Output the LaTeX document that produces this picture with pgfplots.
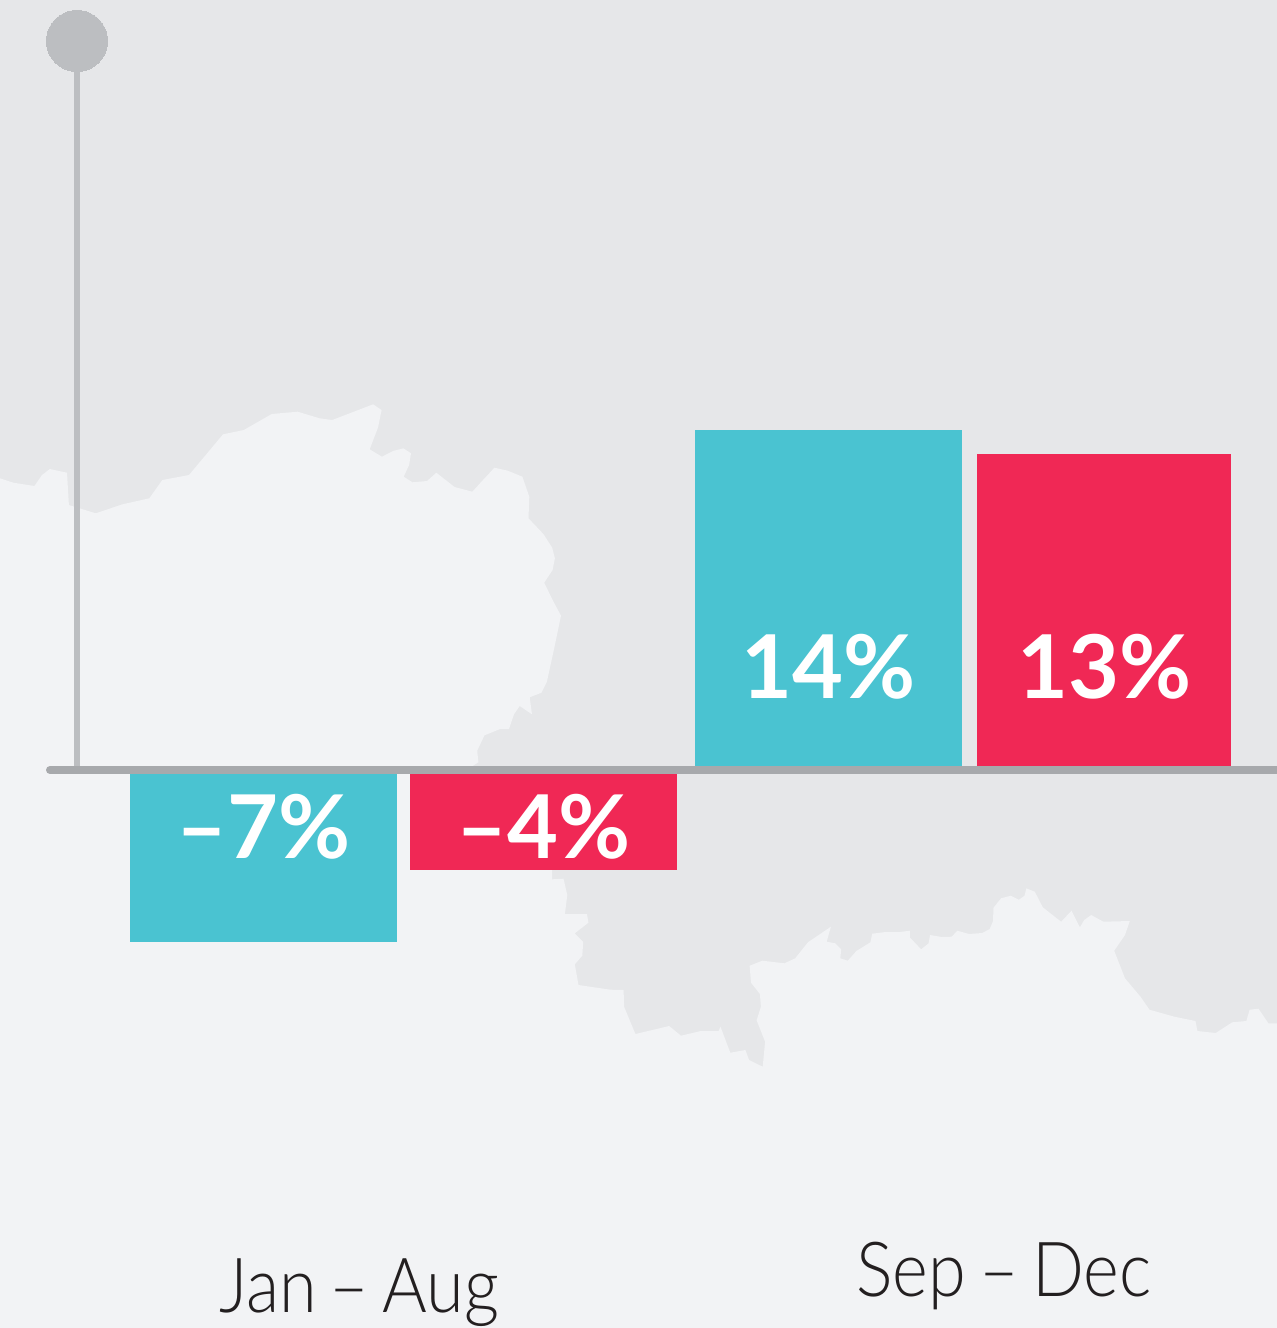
\documentclass[border=0pt]{standalone}
\usepackage{pgfplots}
\pgfplotsset{compat=1.18}
\usepackage{fontspec}
\setmainfont{Lato}
\newfontfamily\lightfont{Lato}[UprightFont=* Light,FakeStretch=0.9,WordSpace=0.7]
\definecolor{sea}{HTML}{E6E7E9}
\definecolor{land}{HTML}{F2F3F5}
\definecolor{teal}{HTML}{4AC3D1}
\definecolor{crim}{HTML}{F02855}
\definecolor{pole}{HTML}{BCBEC1}
\definecolor{baseln}{HTML}{A7A9AC}
\definecolor{ink}{HTML}{231F20}
\begin{document}
\begin{tikzpicture}
\clip (0,0) rectangle (1277pt,1328pt);
% background map, axis line and pole (picture coordinates)
\begin{axis}[at={(0,0)},anchor=south west,scale only axis,width=1277pt,height=1328pt,
  xmin=0,xmax=1277,ymin=0,ymax=1328,y dir=reverse,hide axis,clip=true]
\addplot[draw=none,fill=sea] coordinates {(0,0)(1277,0)(1277,1328)(0,1328)} \closedcycle;
\addplot[draw=none,fill=land] coordinates {
(0,478.3)(13.4,482.7)(34.4,486)(42,475)(49.8,469)(67,472.7)(68.9,505)(95.7,513.3)(122.5,504.3)(149.3,498.3)
(162.3,480)(189,475)(223,434.3)(243.8,430)(271.7,414)(297.7,411.7)(319.6,418.3)(332.2,420)(373.1,404.3)(381.6,410)
(378.1,427.3)(369.7,449.3)(381.9,456.7)(393,451)(403.4,448.3)(411,453.3)(409.1,465)(403.7,476.7)(412.5,482.3)(427,481)
(436.3,472.7)(454.6,487)(472.3,491.7)(483,480)(494.4,467.7)(507.8,470.7)(522.4,476.7)(529.3,496.7)(528.5,518.3)(543.4,534)
(552.2,547.7)(554.9,558.3)(552.6,570)(544.2,582.7)(553,600.7)(561,615.7)(554.2,648.3)(546.9,681.7)(541.5,692.7)(529.7,697.3)
(532,714.3)(519.7,706)(514,714.3)(509,729)(500.2,729)(484.5,735.3)(477.2,750.7)(478.4,762.3)(471.5,766.7)(552.2,870)
(552.2,879.3)(563.5,878.7)(567.3,895)(564.9,914)(587,914)(588.4,922.7)(574.8,933.3)(583.2,941.7)(582.3,955.7)(574.8,964.3)
(578.5,985)(610.5,989.7)(623.6,990)(624.1,1006.7)(635.4,1034)(669.2,1026)(681,1035.7)(700.7,1031)(718.6,1031)(720.5,1026.7)
(730.3,1052.7)(745.4,1050)(749.1,1060)(762.7,1066.7)(765.1,1041.7)(756.6,1020.3)(760.9,1006.7)(759.9,994)(751,982.7)(749.6,965.7)
(762.3,960.7)(784.4,963.3)(795.2,958.3)(807.9,942.3)(830.9,926.7)(826.7,941.7)(835.1,943.3)(841.2,949.3)(840.3,958.3)(847.8,960.7)
(856.3,951)(870.4,942.3)(872.2,933.7)(885.4,932)(899.5,932)(909.8,930.7)(909.8,937.3)(921.1,949.3)(928.6,943.3)(930,935)
(941.8,937)(951.7,936.7)(957.3,930.7)(969,934)(982.2,933)(989.7,929)(993,921)(993.5,907.7)(1001,898.3)(1010.9,895.7)
(1018.9,899.7)(1024.5,895.7)(1026.4,888.3)(1034.8,891.7)(1042.8,907.3)(1061.1,921.7)(1071.5,910.7)(1079.9,927.3)(1084.2,920)(1091.2,915)
(1103.4,921.7)(1129.8,921)(1125,935)(1114.2,950.7)(1125,978.3)(1140.5,996.7)(1149.5,1009.7)(1174.4,1016.7)(1195.5,1021)(1197.4,1031)
(1215.7,1033)(1232.2,1022.3)(1246.3,1021)(1249.6,1009.7)(1258.5,1008.7)(1268.4,1023.3)(1277,1023.3)(1277,1328)(0,1328)
} -- cycle;
\addplot[pole,line width=6pt,mark=none] coordinates {(77,41)(77,770)};
\addplot[only marks,mark=*,mark size=30.5pt,mark options={fill=pole,draw=pole,line width=0pt}] coordinates {(77,41)};
\addplot[baseln,line width=8pt,line cap=round,mark=none] coordinates {(50,770)(1290,770)};
\end{axis}
% bars: y in percent, 24 px per point; zero at the line
\begin{axis}[at={(0,0)},anchor=south west,scale only axis,width=1277pt,height=1328pt,
  xmin=0,xmax=1277,ymin=-23.25,ymax=32.0833,hide axis,clip=false,
  ybar,ymajorgrids=false]
\addplot[fill=teal,draw=none,bar width=267pt,bar shift=0pt,yshift=-4pt] coordinates {(263.5,-7)};
\addplot[fill=crim,draw=none,bar width=267pt,bar shift=0pt,yshift=-4pt] coordinates {(543.5,-4)};
\addplot[fill=teal,draw=none,bar width=267pt,bar shift=0pt,yshift=4pt] coordinates {(828.5,14)};
\addplot[fill=crim,draw=none,bar width=254pt,bar shift=0pt,yshift=4pt] coordinates {(1104,13)};
\node[anchor=base,text=white,font=\fontsize{88}{88}\selectfont\bfseries,inner sep=0pt] at (axis cs:263.5,-3.69) {–7\%};
\node[anchor=base,text=white,font=\fontsize{88}{88}\selectfont\bfseries,inner sep=0pt] at (axis cs:544,-3.69) {–4\%};
\node[anchor=base,text=white,font=\fontsize{88}{88}\selectfont\bfseries,inner sep=0pt] at (axis cs:829,2.96) {14\%};
\node[anchor=base,text=white,font=\fontsize{88}{88}\selectfont\bfseries,inner sep=0pt] at (axis cs:1104.5,2.96) {13\%};
\node[anchor=base,text=ink,font=\fontsize{76}{76}\selectfont\lightfont,inner sep=0pt] at (axis cs:359,-22.6) {Jan – Aug};
\node[anchor=base,text=ink,font=\fontsize{76}{76}\selectfont\lightfont,inner sep=0pt] at (axis cs:1004,-21.95) {Sep – Dec};
\end{axis}
\end{tikzpicture}
\end{document}
